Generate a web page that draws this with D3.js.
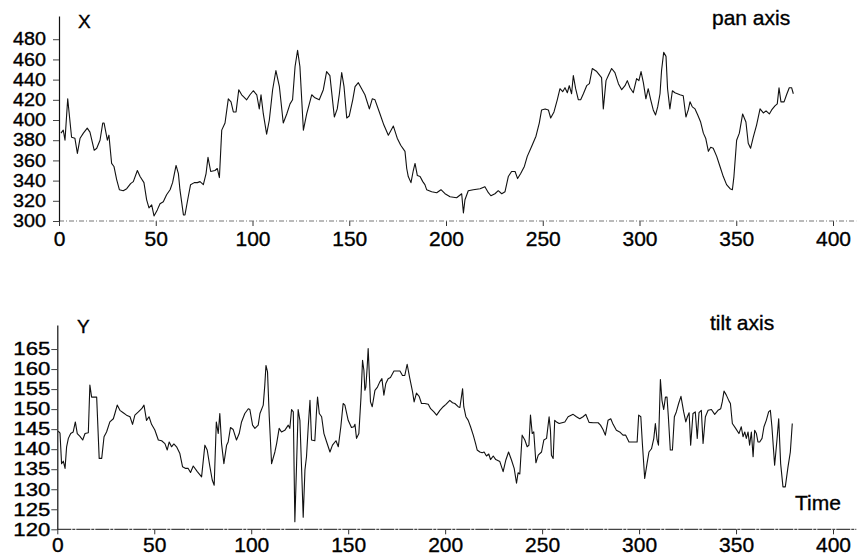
<!DOCTYPE html>
<html>
  <head>
    <meta charset="UTF-8">
    <title>pan / tilt</title>
    <style>
    html, body {
      margin: 0;
      background-color: white;
    }
    svg text {
      font-family: 'Liberation Sans', Arial, sans-serif;
      fill: black;
      stroke: black;
      stroke-width: 0.35px;
    }
    </style>
  </head>
  <body>
  <script src="https://d3js.org/d3.v7.min.js"></script>
  <script>
  // pan axis samples (time, X)
  var panTime = [1.0,2.2,3.1,4.5,6.5,8.2,9.5,10.9,12.6,14.6,16.0,18.2,19.5,21.2,22.6,23.3,25.0,25.8,27.2,28.4,
    29.8,31.2,33.2,35.0,37.0,38.4,40.5,41.9,43.9,45.3,46.5,47.9,49.1,50.8,52.2,53.9,55.6,57.4,58.7,60.5,
    61.7,62.5,64.3,65.1,66.8,68.0,69.9,71.5,72.9,74.6,76.0,77.0,78.4,80.6,81.8,82.9,84.1,85.8,87.5,88.9,
    90.1,91.5,92.9,94.4,97.0,98.7,100.4,102.2,103.5,104.4,105.6,107.3,108.7,110.4,112.1,113.9,115.9,117.7,119.4,120.7,
    122.0,123.3,124.5,126.3,128.0,130.6,132.3,134.5,136.6,138.3,140.0,142.3,143.8,144.9,146.1,147.3,148.7,150.0,151.8,153.0,
    154.7,156.4,158.1,160.4,161.9,163.3,165.9,167.9,170.2,172.8,174.8,176.6,178.8,179.7,180.5,181.9,183.1,184.0,185.2,186.6,
    188.0,189.1,190.0,192.6,195.2,197.4,199.5,202.1,205.5,208.1,209.0,209.8,211.5,214.1,217.6,220.1,221.9,223.2,225.3,227.0,
    228.8,230.5,232.2,233.9,235.7,237.0,238.6,240.5,242.0,244.3,246.5,248.2,249.4,251.2,252.9,254.1,255.8,257.5,258.9,260.3,
    261.5,262.7,263.7,264.9,265.8,267.0,268.4,269.6,271.0,272.7,274.1,275.6,277.9,280.4,281.3,282.7,283.9,285.6,287.3,289.1,
    290.8,292.5,293.7,295.1,296.8,298.5,299.7,300.8,302.0,303.3,304.5,305.8,307.1,308.3,309.4,310.6,311.4,312.5,313.7,314.5,
    315.7,317.0,318.3,320.9,322.6,324.0,325.2,326.1,327.3,328.7,330.1,331.6,333.0,334.2,335.6,336.8,338.1,339.9,341.6,343.3,
    345.0,346.8,348.0,348.8,350.2,351.6,353.3,355.0,356.2,357.4,358.8,360.5,362.3,364.0,365.4,367.1,368.3,370.0,371.2,372.1,
    373.1,374.7,376.0,377.4,378.6,379.5];
  var panX = [387,390,380,421,383,382,367,382,387,392,388,370,372,380,397,397,380,385,357,354,
    341,331,330,332,337,339,350,344,338,321,313,316,305,311,317,319,326,331,338,355,
    347,331,306,306,324,336,338,338,339,336,347,363,349,350,352,343,390,397,421,418,
    408,408,430,425,420,425,429,425,411,425,406,386,400,430,449,433,397,406,416,420,
    453,469,453,390,406,425,422,420,430,448,444,403,411,426,447,433,402,404,420,433,
    437,431,425,411,421,420,406,395,385,394,382,375,369,352,344,338,350,357,345,344,
    339,336,331,329,328,331,327,324,323,327,308,321,330,331,332,334,328,325,327,330,
    327,329,344,349,349,342,347,354,364,374,384,397,410,411,410,402,408,420,431,428,
    432,427,434,426,444,431,420,420,426,434,436,451,448,442,411,439,444,451,447,436,
    430,434,439,432,427,441,439,448,437,421,431,420,410,405,413,426,449,467,463,431,
    411,429,427,425,424,403,410,418,413,411,405,398,387,382,369,373,372,364,354,344,
    336,332,331,344,380,387,406,398,377,372,383,395,411,407,409,406,410,414,416,432,
    418,418,425,432,432,426];

  // tilt axis samples (time, Y)
  var tiltTime = [0.5,1.4,2.2,3.1,4.0,4.8,5.7,6.9,8.2,9.3,10.3,11.7,13.1,14.3,16.0,16.8,17.7,19.4,20.3,21.6,
    22.9,24.1,25.4,27.1,28.9,29.7,30.9,32.3,34.0,35.7,37.5,38.8,40.0,41.8,43.5,44.7,46.0,47.3,48.6,50.3,
    52.1,53.8,55.5,56.7,57.7,58.9,60.1,61.5,63.2,64.6,66.2,67.5,68.7,70.1,72.2,74.4,76.1,77.3,78.7,79.9,
    80.9,82.0,83.0,83.8,84.7,85.9,87.3,88.1,89.3,90.7,92.4,93.8,95.0,96.7,98.5,99.3,100.7,101.9,103.6,104.5,
    106.2,107.0,107.6,108.4,109.3,110.5,112.2,113.1,114.4,115.6,117.3,119.1,119.9,120.8,121.7,122.5,123.4,124.2,125.1,126.0,
    126.8,127.7,128.5,129.4,130.3,131.1,132.8,133.7,134.2,135.1,136.3,137.5,138.9,140.6,141.9,143.7,144.9,146.2,147.4,148.3,
    150.0,151.7,152.9,153.5,154.3,155.5,156.6,157.4,158.1,158.6,159.1,159.8,160.3,160.8,161.5,162.4,163.8,165.1,166.3,167.4,
    168.4,169.4,170.6,171.8,173.6,175.3,176.7,178.0,179.2,180.4,181.8,183.2,184.0,185.2,186.6,187.8,189.5,191.3,192.5,194.2,
    195.6,197.3,199.0,200.4,202.4,203.8,205.0,206.7,207.6,209.0,209.6,210.7,211.9,213.1,214.5,215.7,216.5,217.9,219.1,220.1,
    221.3,222.5,223.4,224.8,226.1,228.2,229.9,231.3,232.7,234.2,235.6,236.8,237.6,238.5,239.7,241.1,242.3,243.2,244.0,244.9,
    245.7,246.8,248.0,249.7,250.9,252.3,253.6,254.3,254.8,255.7,256.5,257.4,258.8,261.7,263.4,266.0,267.7,269.4,271.1,272.5,
    274.2,276.3,278.9,280.1,281.4,282.6,284.0,285.4,286.6,288.3,290.0,291.7,293.1,294.8,296.9,299.0,299.8,300.9,301.7,302.9,
    304.1,305.1,306.4,307.6,308.4,309.3,310.0,311.0,311.8,312.7,313.6,314.4,315.1,316.1,317.2,318.2,319.2,320.4,321.6,323.0,
    324.1,324.9,325.8,326.6,327.8,329.0,330.0,330.9,332.1,333.0,334.2,335.6,337.3,339.0,340.7,342.1,342.9,343.8,345.0,346.4,
    347.1,348.1,349.8,351.5,352.7,353.6,354.5,355.3,356.2,357.0,357.9,358.8,359.6,360.5,361.3,362.2,363.4,364.4,365.6,366.8,
    367.7,368.5,369.9,371.1,372.0,373.0,374.2,375.4,376.8,378.0,379.0];
  var tiltY = [144.5,144.0,136.4,137.0,135.2,140.6,142.7,143.9,144.3,146.8,143.9,143.2,142.3,143.9,144.1,156.0,153.0,153.0,153.0,137.7,
    137.7,143.1,144.3,146.8,147.6,148.9,151.0,149.7,149.1,148.5,148.1,146.2,148.5,149.3,150.1,151.0,147.2,148.1,146.2,144.8,
    142.3,142.1,141.4,139.8,141.8,140.6,141.3,140.6,138.9,135.6,135.2,135.2,134.2,135.8,134.4,133.1,141.0,139.8,135.6,132.3,
    131.0,146.8,143.9,148.9,141.4,136.4,141.0,141.8,145.4,144.9,142.3,143.9,146.8,148.9,150.1,149.9,146.0,145.2,146.0,148.9,
    151.0,156.0,160.9,159.3,148.1,136.4,139.3,141.4,145.2,144.3,144.7,146.0,145.2,149.9,149.3,121.9,136.4,149.9,147.2,134.8,
    123.0,134.8,138.1,145.6,152.2,142.3,142.1,149.7,153.0,148.9,148.1,143.9,141.8,139.3,141.0,142.1,140.6,145.6,151.4,151.0,
    147.2,145.4,145.6,146.2,142.7,143.9,153.0,162.2,159.7,154.7,155.5,160.5,165.1,159.7,151.8,150.6,154.7,155.5,156.8,157.6,
    153.5,156.4,157.6,157.9,159.5,159.5,159.5,158.4,158.4,161.2,157.6,154.3,151.8,154.0,153.2,151.4,151.4,151.2,150.1,149.3,
    148.5,149.7,150.6,151.2,152.2,151.6,151.4,150.6,150.4,155.1,150.6,148.1,147.2,145.6,143.5,141.4,139.8,139.3,139.1,139.3,
    138.3,138.8,137.4,138.3,137.4,136.9,134.4,137.3,139.3,137.3,135.2,131.5,134.1,133.8,143.5,142.3,140.6,141.0,148.5,143.9,
    144.3,136.6,138.5,139.3,142.3,142.7,148.1,144.7,138.5,137.7,147.2,146.8,146.4,146.8,148.1,148.7,148.1,147.6,148.1,148.7,
    146.7,146.6,146.6,146.0,144.9,143.5,147.2,147.6,146.2,144.7,144.3,143.5,143.5,141.8,141.8,141.8,148.5,148.1,141.4,132.7,
    136.4,139.3,140.1,142.7,146.4,142.3,141.0,157.4,152.2,149.9,153.0,153.0,148.1,139.8,139.8,148.1,149.3,151.4,153.2,149.3,
    146.8,148.1,149.1,141.0,148.9,149.3,142.7,149.1,149.7,141.4,148.1,149.7,149.9,148.7,149.7,150.1,151.8,154.5,153.5,152.0,
    151.4,146.4,145.2,143.9,145.6,143.1,144.3,142.7,144.3,141.0,144.3,138.1,144.7,143.9,141.8,141.8,142.7,145.6,147.2,149.3,
    149.7,145.6,136.0,142.3,147.6,136.4,130.6,130.6,135.6,139.3,146.4];

  // tick labels
  var timeTicks = [0, 50, 100, 150, 200, 250, 300, 350, 400];
  var panTicks = [300, 320, 340, 360, 380, 400, 420, 440, 460, 480];
  var tiltTicks = [120, 125, 130, 135, 140, 145, 150, 155, 160, 165];

  var width = 858, height = 558;
  var svg = d3.select('body').append('svg').attr('width', width).attr('height', height);

  // draws one panel: axes, trace and labels
  function panel(opt) {
    var x = d3.scaleLinear().domain([0, 400]).range([opt.left, 833]);
    var y = d3.scaleLinear().domain(opt.yDomain).range([opt.bottom, opt.top]);
    var g = svg.append('g');

    // time axis: a faint scanned-looking baseline with short ticks below
    var xa = g.append('g')
      .attr('transform', 'translate(0,' + opt.bottom + ')')
      .call(d3.axisBottom(x).tickValues(timeTicks).tickSize(5).tickPadding(opt.xPad).tickSizeOuter(0));
    xa.select('.domain').remove();
    xa.selectAll('line').attr('stroke', '#333');
    xa.selectAll('text').attr('font-size', 21).style('font-family', "'Liberation Sans', Arial, sans-serif");
    xa.append('line')
      .attr('x1', x(0)).attr('x2', x(412))
      .attr('stroke', opt.baseColor).attr('stroke-width', 1.2)
      .attr('stroke-dasharray', opt.baseDash);

    // value axis
    var ya = g.append('g')
      .attr('transform', 'translate(' + opt.left + ',0)')
      .call(d3.axisLeft(y).tickValues(opt.ticks).tickSize(6).tickPadding(opt.yPad).tickSizeOuter(0));
    ya.select('.domain').attr('stroke', '#111').attr('stroke-width', 1.2);
    ya.selectAll('line').attr('stroke', '#444');
    ya.selectAll('text')
      .attr('font-size', 18)
      .attr('textLength', opt.labelLen)
      .attr('lengthAdjust', 'spacingAndGlyphs')
      .style('font-family', "'Liberation Sans', Arial, sans-serif");

    // the trace
    var line = d3.line()
      .x(function (d) { return x(d[0]); })
      .y(function (d) { return y(d[1]); });
    g.append('path')
      .datum(d3.zip(opt.t, opt.v))
      .attr('d', line)
      .attr('fill', 'none')
      .attr('stroke', '#111')
      .attr('stroke-width', 1.1)
      .attr('stroke-linejoin', 'round');

    // labels
    opt.labels.forEach(function (l) {
      g.append('text')
        .attr('x', l[1]).attr('y', l[2])
        .attr('font-size', l[3])
        .text(l[0]);
    });
  }

  panel({
    left: 59, top: 16, bottom: 221, yDomain: [300, 503],
    ticks: panTicks, t: panTime, v: panX,
    xPad: 5, yPad: 7, labelLen: 33,
    baseColor: '#777', baseDash: '5,2,1,2',
    labels: [['X', 78, 28, 19], ['pan axis', 712, 25, 21]]
  });

  panel({
    left: 57.3, top: 325, bottom: 529.3, yDomain: [120, 171],
    ticks: tiltTicks, t: tiltTime, v: tiltY,
    xPad: 3, yPad: 1, labelLen: 37,
    baseColor: '#444', baseDash: '14,1,3,1',
    labels: [['Y', 77, 333, 19], ['tilt axis', 710, 330, 21], ['Time', 795, 510, 21]]
  });
  </script>
  </body>
</html>
